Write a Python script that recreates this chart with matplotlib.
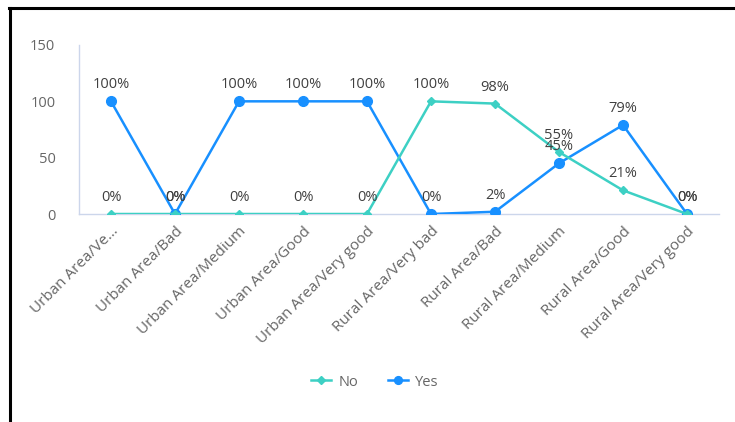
import matplotlib
matplotlib.use("Agg")
import matplotlib.pyplot as plt
from matplotlib.lines import Line2D

plt.rcParams['font.family'] = ['Open Sans', 'DejaVu Sans']

# --- Data ---
categories = ['Urban Area/Ve...', 'Urban Area/Bad', 'Urban Area/Medium', 'Urban Area/Good',
              'Urban Area/Very good', 'Rural Area/Very bad', 'Rural Area/Bad',
              'Rural Area/Medium', 'Rural Area/Good', 'Rural Area/Very good']
no_values = [0, 0, 0, 0, 0, 100, 98, 55, 21, 0]
yes_values = [100, 0, 100, 100, 100, 0, 2, 45, 79, 0]
y_ticks = [0, 50, 100, 150]

# --- Style ---
NO_COLOR = '#3dd0c4'
YES_COLOR = '#1890ff'
AXIS_COLOR = '#ccd6eb'
TEXT_COLOR = '#666666'
LABEL_COLOR = '#404040'

fig = plt.figure(figsize=(7.35, 4.22), dpi=100, facecolor='white')
ax = fig.add_axes([79 / 735, 1 - 214 / 422, 640 / 735, 169 / 422])

x = list(range(len(categories)))
ax.plot(x, yes_values, color=YES_COLOR, lw=1.8, marker='o', ms=7, zorder=3, label='Yes')
ax.plot(x, no_values, color=NO_COLOR, lw=1.8, marker='D', ms=4.5, zorder=4, label='No')

# data labels for both series
for series in (no_values, yes_values):
    for xi, v in zip(x, series):
        ax.annotate(f'{v}%', (xi, v), xytext=(0, 6.5), textcoords='offset points',
                    ha='center', va='bottom', fontsize=10.5, color=LABEL_COLOR, zorder=5)

ax.set_xlim(-0.5, len(categories) - 0.5)
ax.set_ylim(0, 150)
ax.set_yticks(y_ticks)
ax.set_yticklabels([str(t) for t in y_ticks])
ax.set_xticks(x)
ax.set_xticklabels(categories, rotation=45, ha='right', rotation_mode='anchor')

ax.tick_params(axis='y', length=0, pad=17, labelsize=10.5, labelcolor=TEXT_COLOR)
ax.tick_params(axis='x', length=0, pad=7, labelsize=11, labelcolor=TEXT_COLOR)
for s in ['top', 'right']:
    ax.spines[s].set_visible(False)
for s in ['left', 'bottom']:
    ax.spines[s].set_color(AXIS_COLOR)
    ax.spines[s].set_linewidth(1)
ax.set_facecolor('none')

# legend in the order No, Yes
handles, labels = ax.get_legend_handles_labels()
order = [labels.index('No'), labels.index('Yes')]
fig.legend([handles[i] for i in order], [labels[i] for i in order],
           loc='center', bbox_to_anchor=(0.51, 1 - 382 / 422), ncol=2, frameon=False,
           fontsize=10.5, labelcolor=TEXT_COLOR, handlelength=1.4, columnspacing=2.0,
           handletextpad=0.5, markerscale=0.8)

# black frame on top and left edges
fig.add_artist(Line2D([9 / 735, 1], [1 - 7.5 / 422, 1 - 7.5 / 422], color='black', lw=2.2,
                      transform=fig.transFigure))
fig.add_artist(Line2D([10 / 735, 10 / 735], [0, 1 - 7.5 / 422], color='black', lw=2.2,
                      transform=fig.transFigure))

fig.savefig('out.png', dpi=100, facecolor='white')
